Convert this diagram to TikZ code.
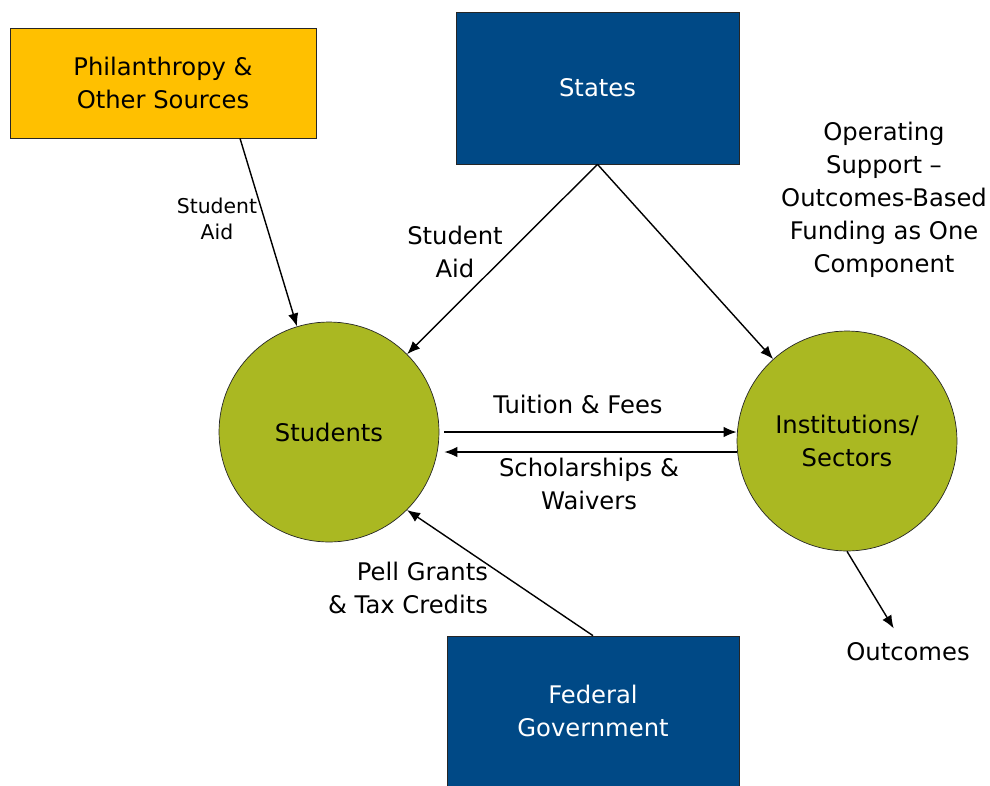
\documentclass[tikz,border=0pt]{standalone}
\usepackage{fontspec}
\setmainfont{DejaVu Sans}
\usepackage{tikz}
\usetikzlibrary{shapes,arrows.meta,calc}
\definecolor{gold}{RGB}{255,192,0}
\definecolor{navy}{RGB}{0,73,134}
\definecolor{olive}{RGB}{170,184,34}
\newcommand\flowfont{\fontsize{13.8}{18.8}\selectfont}
\newcommand\smallflowfont{\fontsize{11.6}{14.8}\selectfont}
\tikzstyle{line} = [draw, -{Latex[length=2.6mm,width=2.1mm]}, line width=0.8pt]
\tikzstyle{block} = [draw=black!85, rectangle, text centered, align=center, font=\flowfont]
\tikzstyle{source} = [block, fill=navy, text=white, minimum width=5.66cm]
\tikzstyle{party} = [draw=black!85, circle, fill=olive, align=center, minimum size=4.4cm, font=\flowfont]
\tikzstyle{flowtext} = [align=center, font=\flowfont]
\tikzstyle{smalltext} = [align=center, font=\smallflowfont]

\begin{document}
\begin{tikzpicture}[x=0.02cm, y=-0.02cm]
        \useasboundingbox (0,0) rectangle (990,785);
        \node[block, fill=gold, minimum width=6.12cm, minimum height=2.2cm] (phil) at (163,83) {Philanthropy \&\\Other Sources};
        \node[source, minimum height=3.04cm] (states) at (597.5,88) {States};
        \node[source, minimum width=5.84cm, minimum height=3cm] (federal) at (593,711) {Federal\\Government};
        \node[party] (students) at (329,432) {Students};
        \node[party] (inst) at (847,441) {Institutions/\\Sectors};
        \node[flowtext] (opsupport) at (884,200) {Operating\\Support –\\Outcomes-Based\\Funding as One\\Component};
        \node[smalltext] (aidone) at (217,219) {Student\\Aid};
        \node[flowtext] (aidtwo) at (455,252) {Student\\Aid};
        \node[flowtext] (tuition) at (578,404) {Tuition \& Fees};
        \node[flowtext] (scholar) at (589,484) {Scholarships \&\\Waivers};
        \node[flowtext, align=right] (pell) at (408,588) {Pell Grants\\\& Tax Credits};
        \node[flowtext, inner sep=8pt] (outcomes) at (908,652) {Outcomes};
        \path[line] ($(phil.south)+(77,0)$) -- (students);
        \path[line] (states.south) -- (students);
        \path[line] (states.south) -- (inst);
        \path[line] ($(students.east)+(5,0)$) -- ($(inst.west)+(0,-9)$);
        \path[line] ($(inst.west)+(0,11)$) -- ($(students.east)+(5,20)$);
        \path[line] (federal.north) -- (students.-45);
        \path[line] (inst.south) -- (outcomes);
    \end{tikzpicture}
\end{document}
